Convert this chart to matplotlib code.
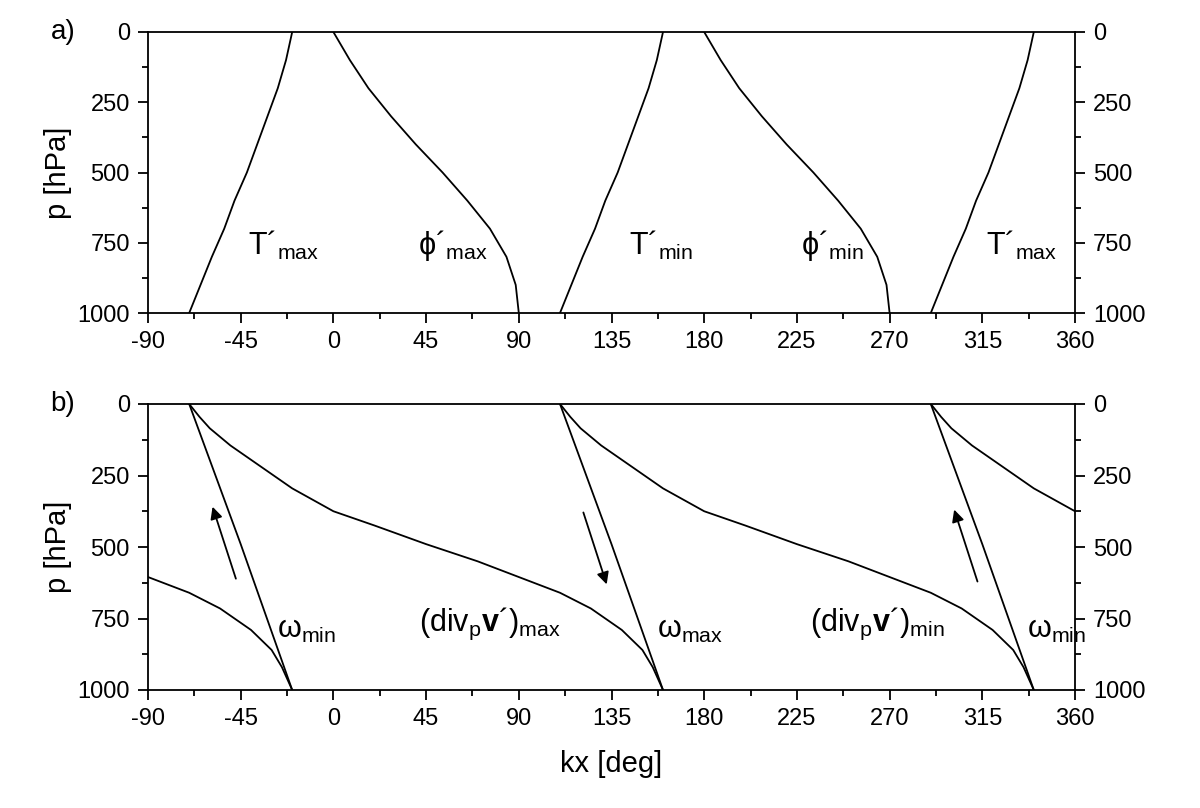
from matplotlib import pyplot as plt
from matplotlib.ticker import MultipleLocator

plt.rcParams['font.family'] = ['Liberation Sans', 'DejaVu Sans']
plt.rcParams['mathtext.fontset'] = 'custom'
plt.rcParams['mathtext.rm'] = 'Liberation Sans'
plt.rcParams['mathtext.bf'] = 'Liberation Sans:bold'
plt.rcParams['axes.unicode_minus'] = False

# panel a: base curves (one wave), repeated at these phase shifts
p_levels = [0, 50, 100, 200, 300, 400, 500, 600, 700, 800, 900, 1000]
t_max_x = [-20, -21.5, -23, -27, -32, -37, -42, -48, -53, -59, -64.5, -70]
phi_max_x = [0, 4, 8, 17, 28, 40, 53, 65, 76, 84, 88.5, 90]
t_shifts = [0, 180, 360]
phi_shifts = [0, 180]

# panel b
div_x = [-70, -65, -60, -50, -40, -30, -20, -10, 0, 20, 45, 70, 90, 110, 125, 140, 150, 155, 160]
div_p = [0, 45, 85, 145, 195, 245, 295, 335, 375, 425, 490, 550, 605, 660, 715, 790, 860, 920, 1000]
div_shifts = [-180, 0, 180, 360]
omega_x = [-70, -45, -20]
omega_p = [0, 490, 1000]
omega_shifts = [0, 180, 360]
arrow_x = [-53, 127, 307]
arrow_from = [620, 370, 630]
arrow_to = [350, 640, 360]

labels_a = [(-24, 760, "T´$_{\\mathrm{max}}$"), (58, 760, "ϕ´$_{\\mathrm{max}}$"),
            (159, 760, "T´$_{\\mathrm{min}}$"), (242, 760, "ϕ´$_{\\mathrm{min}}$"),
            (334, 760, "T´$_{\\mathrm{max}}$")]
labels_b = [(-13, 790, "ω$_{\\mathrm{min}}$"), (76, 770, "(div$_{\\mathrm{p}}$$\\mathbf{v}$´)$_{\\mathrm{max}}$"),
            (173, 790, "ω$_{\\mathrm{max}}$"), (264, 770, "(div$_{\\mathrm{p}}$$\\mathbf{v}$´)$_{\\mathrm{min}}$"),
            (351, 790, "ω$_{\\mathrm{min}}$")]

fig = plt.figure(figsize=(12, 8.08), dpi=100)
ax_a = fig.add_axes([148 / 1200, 1 - 313 / 808, 927 / 1200, 281 / 808])
ax_b = fig.add_axes([148 / 1200, 1 - 690 / 808, 927 / 1200, 286 / 808])

for s in t_shifts:
    ax_a.plot([x + s for x in t_max_x], p_levels, 'k', lw=1.3)
for s in phi_shifts:
    ax_a.plot([x + s for x in phi_max_x], p_levels, 'k', lw=1.3)
for s in div_shifts:
    ax_b.plot([x + s for x in div_x], div_p, 'k', lw=1.3)
for s in omega_shifts:
    ax_b.plot([x + s for x in omega_x], omega_p, 'k', lw=1.3)
for x, p0, p1 in zip(arrow_x, arrow_from, arrow_to):
    dx = (p1 - p0) * 0.045
    ax_b.annotate('', xy=(x + dx / 2, p1), xytext=(x - dx / 2, p0),
                  arrowprops=dict(arrowstyle='-|>', color='k', lw=1.3, mutation_scale=18))

for x, p, s in labels_a:
    ax_a.text(x, p, s, fontsize=22, ha='center', va='center')
for x, p, s in labels_b:
    ax_b.text(x, p, s, fontsize=22, ha='center', va='center')

for ax, tag in [(ax_a, 'a)'), (ax_b, 'b)')]:
    ax.set_xlim(-90, 360)
    ax.set_ylim(1000, 0)
    ax.xaxis.set_major_locator(MultipleLocator(45))
    ax.xaxis.set_minor_locator(MultipleLocator(22.5))
    ax.yaxis.set_major_locator(MultipleLocator(250))
    ax.yaxis.set_minor_locator(MultipleLocator(125))
    ax.tick_params(which='both', direction='out', right=True, labelright=True, labelsize=17, width=1.3, pad=6)
    ax.tick_params(which='major', length=7)
    ax.tick_params(which='minor', length=4)
    for sp in ax.spines.values():
        sp.set_linewidth(1.3)
    ax.set_ylabel('p [hPa]', fontsize=21)
    ax.text(-0.105, 1.0, tag, transform=ax.transAxes, fontsize=20, ha='left', va='center')

ax_b.set_xlabel('kx [deg]', fontsize=21, labelpad=14)

plt.savefig('out.png')
